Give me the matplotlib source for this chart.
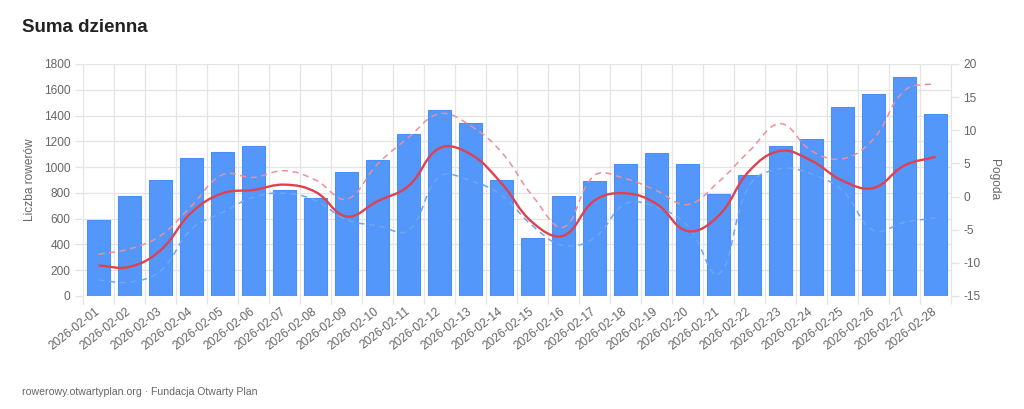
import matplotlib
matplotlib.use("Agg")
import matplotlib.pyplot as plt
from matplotlib.path import Path
from matplotlib.patches import PathPatch
import numpy as np

plt.rcParams['font.family'] = ['Liberation Sans', 'DejaVu Sans']

dates = ["2026-02-01", "2026-02-02", "2026-02-03", "2026-02-04", "2026-02-05",
         "2026-02-06", "2026-02-07", "2026-02-08", "2026-02-09", "2026-02-10",
         "2026-02-11", "2026-02-12", "2026-02-13", "2026-02-14", "2026-02-15",
         "2026-02-16", "2026-02-17", "2026-02-18", "2026-02-19", "2026-02-20",
         "2026-02-21", "2026-02-22", "2026-02-23", "2026-02-24", "2026-02-25",
         "2026-02-26", "2026-02-27", "2026-02-28"]

bikes = [592, 774, 897, 1070, 1114, 1160, 825, 760, 964, 1058,
         1255, 1442, 1341, 900, 447, 774, 893, 1021, 1109, 1028,
         794, 935, 1162, 1216, 1467, 1568, 1696, 1415]

temp_mean = [-10.4, -10.6, -8.1, -2.4, 0.5, 1.0, 1.8, 0.7, -3.0, -0.7,
             1.6, 7.3, 6.4, 2.0, -3.9, -5.9, -0.6, 0.5, -1.1, -5.2,
             -2.9, 3.9, 6.9, 5.4, 2.4, 1.3, 4.7, 6.0]

temp_max = [-8.7, -7.9, -5.9, -1.4, 3.3, 2.9, 3.9, 2.5, -0.4, 4.9,
            8.9, 12.5, 10.7, 6.7, 0.1, -4.6, 3.2, 2.7, 0.9, -1.2,
            2.2, 6.9, 11.0, 6.9, 5.7, 8.7, 16.0, 17.1]

temp_min = [-12.6, -12.9, -11.2, -4.9, -2.4, -0.1, 0.5, -0.6, -3.5, -4.4,
            -5.1, 3.0, 2.4, 0.2, -4.4, -7.4, -6.2, -1.1, -1.6, -4.4,
            -11.7, 1.7, 4.2, 3.4, 0.9, -5.1, -3.9, -3.2]

left_ticks = [0, 200, 400, 600, 800, 1000, 1200, 1400, 1600, 1800]
right_ticks = [-15, -10, -5, 0, 5, 10, 15, 20]

W, H = 1024, 409
fig = plt.figure(figsize=(W / 100, H / 100), dpi=100)
ax_l, ax_r, ax_b, ax_t = 83, 951, 296, 64
ax = fig.add_axes([ax_l / W, 1 - ax_b / H, (ax_r - ax_l) / W, (ax_b - ax_t) / H])

grid_c = '#e4e4e4'
text_c = '#666666'

n = len(dates)
x = np.arange(n)
ax.set_xlim(-0.5, n - 0.5)
ax.set_ylim(0, 1800)
ax.bar(x, bikes, width=0.72, color='#5297f9', edgecolor='#4a90f7', linewidth=0.8, zorder=2)

ax.set_yticks(left_ticks)
ax.set_yticklabels([str(v) for v in left_ticks])
for v in left_ticks:
    ax.axhline(v, color=grid_c, lw=0.9, zorder=0)
for b in np.arange(-0.5, n, 1.0):
    ax.axvline(b, color=grid_c, lw=0.9, zorder=0)
ax.set_xticks(np.arange(-0.5, n, 1.0), minor=False)
ax.set_xticklabels([])
ax.tick_params(axis='x', which='major', length=6, color=grid_c, width=0.9)
ax.set_xticks(x, minor=True)
ax.set_xticklabels(dates, minor=True, rotation=38, ha='right', va='center',
                   rotation_mode='anchor', fontsize=8.6, color=text_c)
ax.tick_params(axis='x', which='minor', length=0, pad=10)
ax.tick_params(axis='y', length=6, color=grid_c, width=0.9, labelsize=8.6,
               labelcolor=text_c, pad=3)
for s in ax.spines.values():
    s.set_visible(False)
ax.set_ylabel('Liczba rowerów', fontsize=8.6, color=text_c, labelpad=6)

ax2 = ax.twinx()
ax2.set_ylim(-15, 20)
ax2.set_yticks(right_ticks)
ax2.set_yticklabels([str(v) for v in right_ticks])
ax2.tick_params(axis='y', length=6, color=grid_c, width=0.9, labelsize=8.6,
                labelcolor=text_c, pad=3)
for s in ax2.spines.values():
    s.set_visible(False)
ax2.spines['right'].set_visible(True)
ax2.spines['right'].set_color(grid_c)
ax2.set_ylabel('Pogoda', fontsize=8.6, color=text_c, rotation=-90, labelpad=14)

# Chart.js-style tension spline (distances measured in pixels)
px_x = (ax_r - ax_l) / n
px_y = (ax_b - ax_t) / 35.0


def smooth_path(xs, ys, tension=0.4):
    xs = np.asarray(xs, float)
    ys = np.asarray(ys, float)
    m = len(xs)
    cps_prev = []
    cps_next = []
    for i in range(m):
        p1 = np.array([xs[i], ys[i]])
        p0 = np.array([xs[i - 1], ys[i - 1]]) if i > 0 else p1
        p2 = np.array([xs[i + 1], ys[i + 1]]) if i < m - 1 else p1
        d01 = np.hypot((p1[0] - p0[0]) * px_x, (p1[1] - p0[1]) * px_y)
        d12 = np.hypot((p2[0] - p1[0]) * px_x, (p2[1] - p1[1]) * px_y)
        tot = d01 + d12
        s01 = d01 / tot if tot else 0
        s12 = d12 / tot if tot else 0
        fa = tension * s01
        fb = tension * s12
        cps_prev.append(p1 - fa * (p2 - p0))
        cps_next.append(p1 + fb * (p2 - p0))
    verts = [(xs[0], ys[0])]
    codes = [Path.MOVETO]
    for i in range(1, m):
        verts += [tuple(cps_next[i - 1]), tuple(cps_prev[i]), (xs[i], ys[i])]
        codes += [Path.CURVE4] * 3
    return Path(verts, codes)


ax2.add_patch(PathPatch(smooth_path(x, temp_max), fill=False, edgecolor='#ee8f98',
                        lw=1.1, linestyle=(0, (4, 3)), zorder=3))
ax2.add_patch(PathPatch(smooth_path(x, temp_min), fill=False, edgecolor='#6fa5f5',
                        lw=1.1, linestyle=(0, (4, 3)), zorder=3))
ax2.add_patch(PathPatch(smooth_path(x, temp_mean), fill=False, edgecolor='#e0414f',
                        lw=1.7, zorder=4))
ax2.set_zorder(ax.get_zorder() + 1)
ax.set_xlim(-0.5, n - 0.5)

fig.text(22 / W, 1 - 28 / H, 'Suma dzienna', fontsize=13.5, fontweight='bold',
         color='#222222', ha='left', va='center')
fig.text(22 / W, 1 - 392 / H, 'rowerowy.otwartyplan.org · Fundacja Otwarty Plan',
         fontsize=7.6, color=text_c, ha='left', va='center')

fig.savefig('out.png', dpi=100)
